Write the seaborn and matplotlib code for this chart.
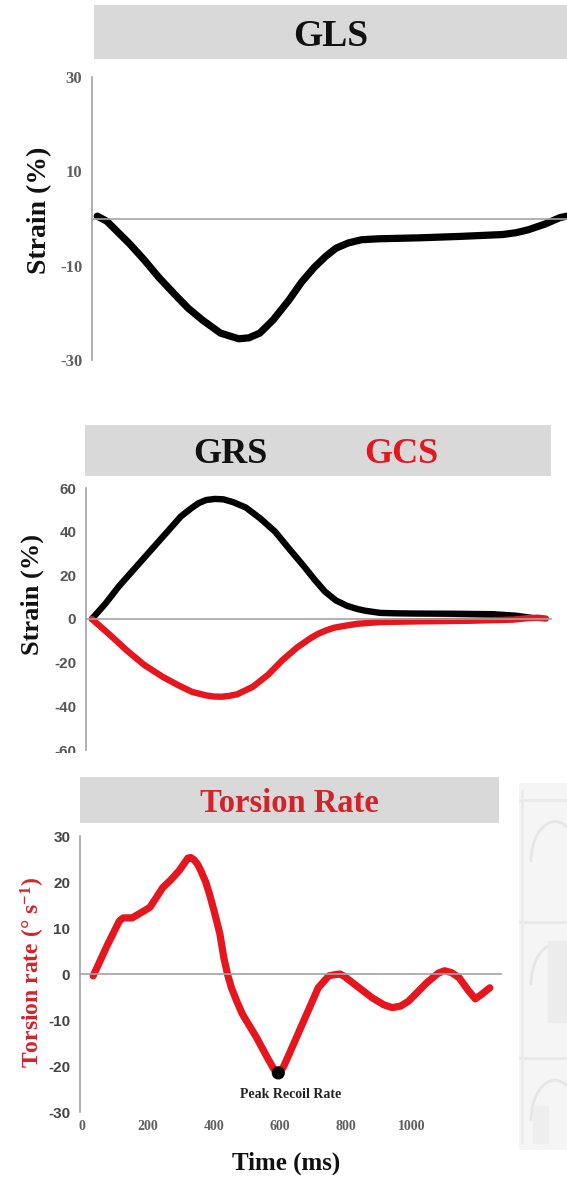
import matplotlib
matplotlib.use("Agg")
import matplotlib.pyplot as plt
import matplotlib.patches as mpatches
import seaborn as sns

# ---------------- data ----------------
gls_t = [6, 30, 51, 85, 122, 158, 194, 230, 265, 310, 355, 380, 407, 440, 479, 510, 542, 570, 595, 625, 658,
         700, 800, 900, 1006, 1040, 1069, 1110, 1148, 1165]
gls_v = [0.5, -0.6, -2.4, -5.3, -8.8, -12.5, -15.8, -19, -21.5, -24.3, -25.5, -25.3, -24.3, -21.5, -17.3, -13.5,
         -10.3, -8, -6.3, -5.2, -4.5, -4.3, -4.1, -3.8, -3.4, -3.0, -2.4, -1.2, 0.2, 0.5]

grs_t = [15, 50, 85, 130, 170, 210, 245, 270, 290, 310, 333, 355, 380, 413, 450, 488, 525, 563, 590, 617, 645,
         674, 700, 720, 759, 800, 850, 950, 1050, 1110, 1150]
grs_v = [0, 7, 15, 24, 32, 40, 47, 50.5, 53, 54.5, 55, 54.8, 53.5, 51, 46, 40, 32, 24, 18, 12.5, 8.5,
         6, 4.6, 3.8, 2.8, 2.6, 2.5, 2.4, 2.2, 1.5, 0.5]

gcs_t = [15, 60, 106, 150, 199, 240, 274, 310, 330, 351, 370, 390, 431, 470, 506, 545, 581, 600, 620, 640, 665,
         700, 759, 850, 991, 1102, 1140, 1165, 1187]
gcs_v = [0, -7, -14.5, -21, -26.6, -30.5, -33.4, -35, -35.5, -35.6, -35.2, -34.5, -31, -25.5, -19, -13, -8.6,
         -6.7, -5.2, -4, -3.2, -2.2, -1.4, -1.1, -0.8, -0.3, 0.4, 0.6, 0.2]

tor_t = [34, 75, 113, 125, 152, 176, 206, 245, 267, 295, 321, 330, 340, 350, 360, 375, 388, 403, 418, 430, 442,
         453, 469, 486, 529, 562, 580, 595, 610, 628, 672, 716, 748, 770, 782, 795, 820, 880, 915, 940, 965,
         990, 1045, 1080, 1099, 1120, 1143, 1170, 1192, 1210, 1236]
tor_v = [-0.4, 6, 11.5, 12.2, 12.2, 13.2, 14.5, 18.8, 20.3, 22.5, 25.2, 25.3, 24.8, 23.9, 22.5, 20, 17, 13,
         8.7, 3.5, -0.3, -3, -5.9, -8.7, -13.8, -18.2, -20.5, -21.5, -20.3, -17.4, -10.2, -3, -0.4, -0.1, 0,
         -0.5, -1.9, -5.2, -6.7, -7.3, -7, -5.9, -1.9, 0.2, 0.7, 0.3, -0.8, -3.5, -5.4, -4.5, -3]

peak_t = [595]
peak_v = [-21.5]
peak_label = "Peak Recoil Rate"

gls_yticks = [30, 10, -10, -30]
mid_yticks = [60, 40, 20, 0, -20, -40, -60]
tor_yticks = [30, 20, 10, 0, -10, -20, -30]
tor_xticks = [0, 200, 400, 600, 800, 1000]

# ---------------- style ----------------
sns.set_style("white")
plt.rcParams['font.family'] = ['Liberation Serif', 'DejaVu Serif']
plt.rcParams['mathtext.fontset'] = 'custom'
plt.rcParams['mathtext.rm'] = 'Liberation Serif:bold'
plt.rcParams['mathtext.it'] = 'Liberation Serif:bold'
plt.rcParams['mathtext.bf'] = 'Liberation Serif:bold'

W, H = 567, 1177
fig = plt.figure(figsize=(W / 100, H / 100), dpi=100)
fig.patch.set_facecolor('white')

def box(l, t, r, b):
    return [l / W, 1 - b / H, (r - l) / W, (b - t) / H]

RED = '#e5161e'
TRED = '#d2232a'
GRAYBAR = '#d9d9d9'
SPINE = '#a3a3a3'
TICKC = '#5e5e5e'

def title_bar(rect, color=GRAYBAR):
    a = fig.add_axes(rect)
    a.set_facecolor(color)
    for s in a.spines.values():
        s.set_visible(False)
    a.set_xticks([]); a.set_yticks([])
    return a

def style_axes(ax, xticks_zero):
    for s in ['top', 'right']:
        ax.spines[s].set_visible(False)
    ax.spines['left'].set_color(SPINE)
    ax.spines['left'].set_linewidth(1.2)
    ax.spines['bottom'].set_position(('data', 0))
    ax.spines['bottom'].set_color(SPINE)
    ax.spines['bottom'].set_linewidth(1.2)
    ax.set_xticks(xticks_zero)
    ax.set_xticklabels([])
    ax.tick_params(axis='x', direction='out', length=3.5, width=1.0, color=SPINE)
    ax.tick_params(axis='y', direction='out', length=3.5, width=1.0, color=SPINE)
    ax.set_facecolor('none')

LINE_KW = dict(sort=False, solid_capstyle='round', solid_joinstyle='round')

# ---------------- faint background image area (right side) ----------------
bg = fig.add_axes(box(519, 783, 567, 1150))
bg.set_facecolor('#f5f5f5')
for s in bg.spines.values():
    s.set_visible(False)
bg.set_xticks([]); bg.set_yticks([])
bg.set_xlim(0, 1); bg.set_ylim(0, 1)
for yy in [0.955, 0.62, 0.25]:
    bg.add_patch(mpatches.Arc((0.75, yy - 0.17), 1.0, 0.22, theta1=0, theta2=180, color='#e6e6e6', lw=2))
    bg.plot([0.0, 1.0], [yy, yy], color='#e9e9e9', lw=2)
bg.plot([0.06, 0.06], [0.02, 0.98], color='#ececec', lw=2)
bg.add_patch(mpatches.Rectangle((0.6, 0.35), 0.4, 0.22, color='#ececec'))
bg.add_patch(mpatches.Rectangle((0.3, 0.02), 0.3, 0.1, color='#eeeeee'))

# ---------------- GLS panel ----------------
tb = title_bar(box(94, 5, 567, 59))
tb.text(0.5, 0.42, 'GLS', ha='center', va='center', transform=tb.transAxes,
        fontsize=27, fontweight='bold', color='#111111')

ax1 = fig.add_axes(box(92, 77, 567, 360))
sns.lineplot(x=gls_t, y=gls_v, ax=ax1, color='black', linewidth=5.2, **LINE_KW)
ax1.set_xlim(-7, 1165)
ax1.set_ylim(-30, 30)
style_axes(ax1, [200, 400, 600, 800, 1000])
ax1.set_yticks(gls_yticks)
ax1.set_yticklabels([str(v) for v in gls_yticks], fontsize=12, fontweight='bold', color=TICKC)
ax1.set_ylabel('Strain (%)', fontsize=20, fontweight='bold', color='#111111', va='center')
ax1.yaxis.set_label_coords(-0.11, 0.53)

# ---------------- GRS / GCS panel ----------------
mb = title_bar(box(85, 425, 551, 476))
mb.text(0.313, 0.42, 'GRS', ha='center', va='center', transform=mb.transAxes,
        fontsize=26, fontweight='bold', color='#111111')
mb.text(0.678, 0.42, 'GCS', ha='center', va='center', transform=mb.transAxes,
        fontsize=26, fontweight='bold', color=RED)

ax2 = fig.add_axes(box(86, 488, 551, 750))
sns.lineplot(x=grs_t, y=grs_v, ax=ax2, color='black', linewidth=4.6, **LINE_KW)
sns.lineplot(x=gcs_t, y=gcs_v, ax=ax2, color=RED, linewidth=4.6, **LINE_KW)
ax2.set_xlim(0, 1200)
ax2.set_ylim(-60, 60)
style_axes(ax2, [200, 400, 600])
ax2.set_yticks(mid_yticks)
ax2.set_yticklabels([str(v) for v in mid_yticks], fontsize=11, fontweight='bold',
                    color='#555555', family='Liberation Sans')
ax2.set_ylabel('Strain (%)', fontsize=19, fontweight='bold', color='#111111', va='center')
ax2.yaxis.set_label_coords(-0.116, 0.595)

# white strip that partially hides the lowest label (as in the source image)
fig.patches.append(mpatches.Rectangle((0, 1 - 777 / H), 1, 24 / H, transform=fig.transFigure,
                                      facecolor='white', edgecolor='none', zorder=5))

# ---------------- Torsion rate panel ----------------
bb = title_bar(box(80, 777, 499, 823))
bb.set_zorder(6)
bb.text(0.5, 0.42, 'Torsion Rate', ha='center', va='center', transform=bb.transAxes,
        fontsize=23.5, fontweight='bold', color=TRED)

ax3 = fig.add_axes(box(80, 836, 501, 1112))
ax3.set_zorder(6)
sns.lineplot(x=tor_t, y=tor_v, ax=ax3, color=RED, linewidth=5.2, **LINE_KW)
sns.scatterplot(x=peak_t, y=peak_v, ax=ax3, color='black', s=90, edgecolor='none', zorder=5)
ax3.text(peak_t[0] + 38, peak_v[0] - 4.6, peak_label, ha='center', va='center',
         fontsize=10, fontweight='bold', color='#222222')
ax3.set_xlim(-6, 1270)
ax3.set_ylim(-30, 30)
style_axes(ax3, [230, 460, 690, 920])
ax3.set_yticks(tor_yticks)
ax3.set_yticklabels([str(v) for v in tor_yticks], fontsize=11, fontweight='bold',
                    color='#444444', family='Liberation Sans')
ax3.set_ylabel('Torsion rate (° s$^{-1}$)', fontsize=17, fontweight='bold', color=TRED, va='center')
ax3.yaxis.set_label_coords(-0.112, 0.507)

sec = ax3.secondary_xaxis('bottom')
sec.spines['bottom'].set_visible(False)
sec.set_xticks(tor_xticks)
sec.set_xticklabels([str(v) for v in tor_xticks], fontsize=10, fontweight='bold', color=TICKC)
sec.tick_params(axis='x', length=0, pad=6)

ax3.set_xlabel('Time (ms)', fontsize=18, fontweight='bold', color='#111111', va='center')
ax3.xaxis.set_label_coords(0.489, -0.185)

fig.savefig('out.png', dpi=100, facecolor='white')
